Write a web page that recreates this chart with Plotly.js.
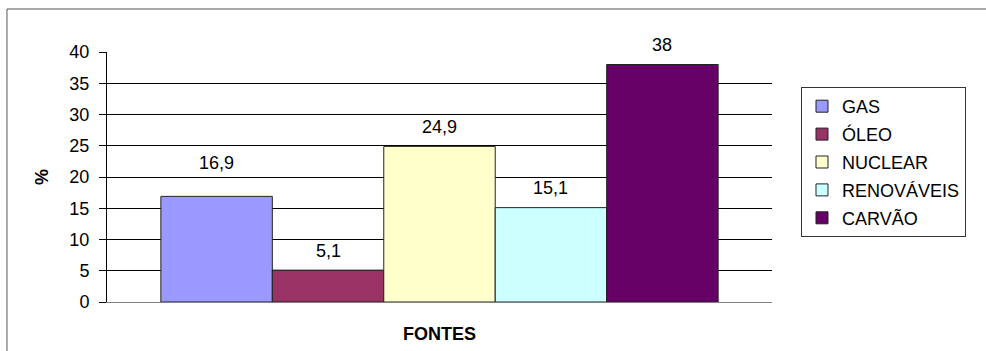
<!DOCTYPE html>
<html>
<head>
<meta charset="utf-8">
<script src="https://cdn.plot.ly/plotly-3.0.1.min.js"></script>
<style>
  html, body { margin: 0; padding: 0; background: #fff; }
  #chart { width: 986px; height: 351px; }
</style>
</head>
<body>
<div id="chart"></div>
<script>
// ---- data ----
var sources = ['GAS', 'ÓLEO', 'NUCLEAR', 'RENOVÁVEIS', 'CARVÃO'];
var shares = [16.9, 5.1, 24.9, 15.1, 38];
var category = ['FONTES'];
var yTicks = [0, 5, 10, 15, 20, 25, 30, 35, 40];

// ---- styles ----
var colors = ['#9999FF', '#993366', '#FFFFCC', '#CCFFFF', '#660066'];
var FONT = 'Liberation Sans, Arial, sans-serif';
var FS = 18;
var bargap = 0.162;

var traces = sources.map(function (name, i) {
  return {
    type: 'bar',
    name: name,
    legendgroup: name,
    x: category,
    y: [shares[i]],
    marker: { color: colors[i], line: { color: '#222', width: 1 } },
    hoverinfo: 'name+y'
  };
});

// label offsets (pixels above bar top), as placed in the original
var labelLift = [33, 19, 19, 20, 20];
var barW = (1 - bargap) / sources.length;
var annotations = sources.map(function (name, i) {
  return {
    xref: 'x', yref: 'y',
    x: -0.5 + bargap / 2 + barW * (i + 0.5),
    y: shares[i],
    yshift: labelLift[i],
    text: String(shares[i]).replace('.', ','),
    showarrow: false,
    xanchor: 'center', yanchor: 'middle',
    font: { family: FONT, size: FS, color: '#000' }
  };
});

var layout = {
  width: 986, height: 351,
  margin: { l: 107, r: 214, t: 52, b: 49, pad: 0 },
  paper_bgcolor: '#fff', plot_bgcolor: '#fff',
  font: { family: FONT, size: FS, color: '#000' },
  barmode: 'group',
  bargap: bargap,
  bargroupgap: 0,
  showlegend: true,
  legend: {
    x: 1.0436, xanchor: 'left',
    y: 0.86, yanchor: 'top',
    bordercolor: '#333', borderwidth: 1,
    bgcolor: '#fff',
    traceorder: 'grouped',
    tracegroupgap: 1.5,
    font: { family: FONT, size: FS, color: '#000' }
  },
  xaxis: {
    type: 'category',
    range: [-0.5, 0.5],
    showticklabels: false,
    ticks: '',
    showgrid: false,
    zeroline: false,
    showline: true,
    linecolor: '#808080',
    linewidth: 1,
    fixedrange: true,
    title: { text: '<b>FONTES</b>', standoff: 25, font: { family: FONT, size: FS, color: '#000' } }
  },
  yaxis: {
    range: [0, 40],
    tickvals: yTicks,
    ticktext: yTicks.map(String),
    ticks: 'outside',
    ticklen: 7,
    tickcolor: '#000',
    tickwidth: 1,
    ticklabelstandoff: 6,
    showline: true,
    linecolor: '#000',
    linewidth: 1,
    showgrid: true,
    gridcolor: '#000',
    gridwidth: 1,
    zeroline: false,
    fixedrange: true,
    tickfont: { family: FONT, size: FS, color: '#000' },
    title: { text: '<b>%</b>', standoff: 16, font: { family: FONT, size: FS, color: '#000' } }
  },
  annotations: annotations,
  shapes: [{
    type: 'rect', xref: 'paper', yref: 'paper',
    x0: -0.1504, x1: 1.6, y0: -0.3, y1: 1.172,
    line: { color: '#555', width: 1 },
    fillcolor: 'rgba(0,0,0,0)',
    layer: 'below'
  }]
};

Plotly.newPlot('chart', traces, layout, { displayModeBar: false, staticPlot: true });
</script>
</body>
</html>
